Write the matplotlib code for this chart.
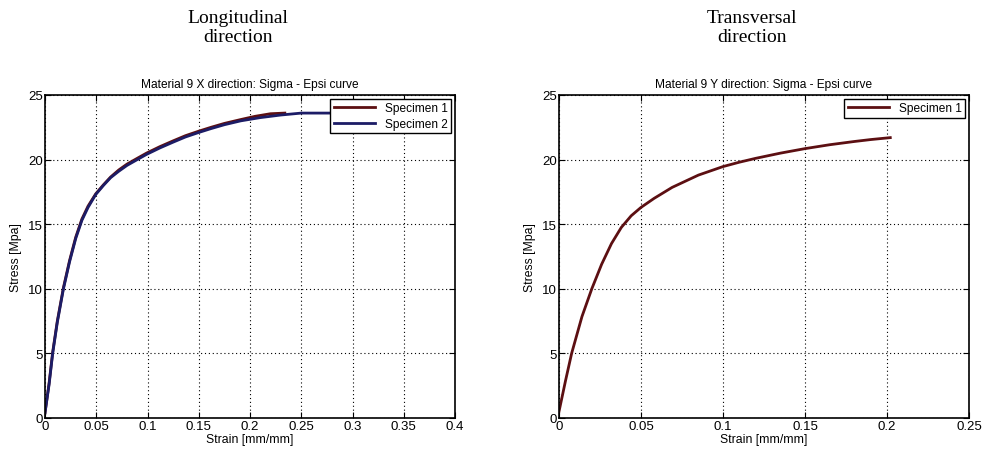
import numpy as np
import matplotlib.pyplot as plt

# Longitudinal (X direction) curves
x_spec1_strain = [0, 0.004, 0.0075, 0.012, 0.018, 0.024, 0.030, 0.036, 0.042, 0.0495, 0.057, 0.064, 0.072,
                  0.080, 0.090, 0.099, 0.112, 0.125, 0.137, 0.150, 0.162, 0.175, 0.191, 0.205, 0.220, 0.234]
x_spec1_stress = [0.4, 2.7, 5.1, 7.5, 10.1, 12.2, 14.0, 15.4, 16.4, 17.35, 18.05, 18.65, 19.2,
                  19.65, 20.1, 20.5, 21.0, 21.45, 21.85, 22.2, 22.5, 22.8, 23.1, 23.35, 23.55, 23.6]
x_spec2_strain = [0, 0.004, 0.0075, 0.012, 0.018, 0.024, 0.030, 0.036, 0.042, 0.0495, 0.057, 0.064, 0.072,
                  0.080, 0.090, 0.099, 0.112, 0.125, 0.137, 0.150, 0.162, 0.175, 0.191, 0.210, 0.230, 0.250, 0.290]
x_spec2_stress = [0.4, 2.6, 5.0, 7.4, 10.0, 12.1, 13.9, 15.3, 16.3, 17.3, 18.0, 18.6, 19.1,
                  19.55, 20.0, 20.4, 20.9, 21.35, 21.75, 22.1, 22.4, 22.7, 23.0, 23.25, 23.45, 23.6, 23.6]

# Transversal (Y direction) curve
y_spec1_strain = [0, 0.004, 0.0077, 0.014, 0.020, 0.026, 0.032, 0.038, 0.044, 0.050, 0.058, 0.069,
                  0.085, 0.100, 0.110, 0.120, 0.135, 0.150, 0.165, 0.180, 0.190, 0.202]
y_spec1_stress = [0.5, 2.9, 5.0, 7.85, 10.0, 11.9, 13.5, 14.75, 15.65, 16.3, 17.0, 17.85,
                  18.8, 19.46, 19.8, 20.1, 20.5, 20.85, 21.15, 21.4, 21.55, 21.7]

col1 = '#5c0f12'
col2 = '#1c1c66'

plt.rcParams['font.family'] = ['Liberation Sans', 'DejaVu Sans']

fig = plt.figure(figsize=(9.84, 4.56), dpi=100)
ax1 = fig.add_axes([45 / 984, 37 / 456, 410 / 984, 323 / 456])
ax2 = fig.add_axes([559 / 984, 37 / 456, 410 / 984, 323 / 456])

ax1.plot(x_spec1_strain, x_spec1_stress, color=col1, lw=2, label='Specimen 1')
ax1.plot(x_spec2_strain, x_spec2_stress, color=col2, lw=2, label='Specimen 2')
ax2.plot(y_spec1_strain, y_spec1_stress, color=col1, lw=2, label='Specimen 1')

for ax, xmax, xt, ttl in [(ax1, 0.4, np.arange(0, 0.401, 0.05), 'Material 9 X direction: Sigma - Epsi curve'),
                          (ax2, 0.25, np.arange(0, 0.251, 0.05), 'Material 9 Y direction: Sigma - Epsi curve')]:
    ax.set_xlim(0, xmax)
    ax.set_ylim(0, 25)
    ax.set_xticks(xt)
    ax.set_xticklabels(['0' if v == 0 else ('%g' % round(v, 2)) for v in xt])
    ax.set_yticks([0, 5, 10, 15, 20, 25])
    ax.grid(True, color='black', linestyle=(0, (1, 2.5)), lw=0.8)
    ax.tick_params(direction='in', top=True, right=True, labelsize=9.5, length=4, pad=1.5)
    ax.set_xlabel('Strain [mm/mm]', fontsize=8.8, labelpad=1)
    ax.set_ylabel('Stress [Mpa]', fontsize=8.8, labelpad=4)
    ax.set_title(ttl, fontsize=8.6, pad=6)
    for s in ax.spines.values():
        s.set_linewidth(1.2)
    leg = ax.legend(loc='upper right', fontsize=8.6, fancybox=False, framealpha=1,
                    edgecolor='black', borderaxespad=0.3, handlelength=3.5,
                    borderpad=0.3, labelspacing=0.3)
    leg.get_frame().set_linewidth(1.0)

fig.text(238 / 984, 1 - 28 / 456, 'Longitudinal\ndirection', ha='center', va='center',
         fontsize=14, family='Liberation Serif', linespacing=1.1)
fig.text(752 / 984, 1 - 28 / 456, 'Transversal\ndirection', ha='center', va='center',
         fontsize=14, family='Liberation Serif', linespacing=1.1)

fig.savefig('out.png', dpi=100)
